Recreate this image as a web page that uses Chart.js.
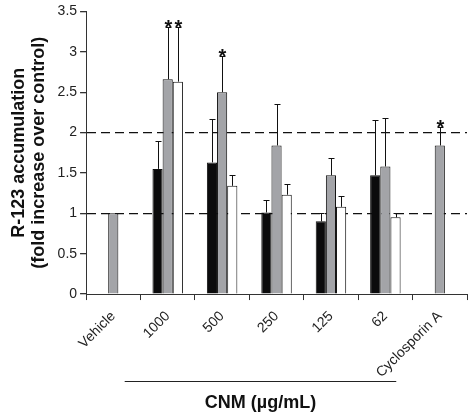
<!DOCTYPE html>
<html lang="en">
<head>
    <meta charset="UTF-8">
    <title>R-123 accumulation</title>
    <style>
        body { margin: 0; background: #fff; }
        #wrap { width: 475px; height: 418px; }
    </style>
</head>
<body>
    <div id="wrap"><canvas id="myChart"></canvas></div>

    <script src="https://cdn.jsdelivr.net/npm/chart.js"></script>
    <script>
        // values
        const categories = ['Vehicle', '1000', '500', '250', '125', '62', 'Cyclosporin A'];
        const blackVals = [null, 1.55, 1.63, 1.01, 0.90, 1.47, null];
        const grayVals  = [1.00, 2.66, 2.50, 1.84, 1.47, 1.58, 1.84];
        const whiteVals = [null, 2.63, 1.34, 1.23, 1.08, 0.95, null];
        // upper error (SD)
        const blackErr = [null, 0.34, 0.54, 0.15, 0.10, 0.68, null];
        const grayErr  = [0, 0.65, 0.45, 0.51, 0.22, 0.60, 0.23];
        const whiteErr = [null, 0.68, 0.13, 0.13, 0.13, 0.05, null];
        // significance marks
        const blackStar = [false, false, false, false, false, false, false];
        const grayStar  = [false, true, true, false, false, false, true];
        const whiteStar = [false, true, false, false, false, false, false];
        const yTicks = [0, 0.5, 1, 1.5, 2, 2.5, 3, 3.5];
        const refLines = [1, 2];

        const errPlugin = {
            id: 'errBars',
            afterDatasetsDraw(chart) {
                const ctx = chart.ctx;
                const y = chart.scales.y;
                ctx.save();
                ctx.strokeStyle = '#111';
                ctx.lineWidth = 1;
                chart.data.datasets.forEach((ds, di) => {
                    const meta = chart.getDatasetMeta(di);
                    meta.data.forEach((el, i) => {
                        const v = ds.data[i];
                        if (v == null) return;
                        const e = ds.err[i] || 0;
                        const x = Math.round(el.x) + 0.5;
                        const top = Math.round(y.getPixelForValue(v + e)) + 0.5;
                        if (e > 0) {
                            ctx.beginPath();
                            ctx.moveTo(x, el.y);
                            ctx.lineTo(x, top);
                            ctx.moveTo(x - 3, top);
                            ctx.lineTo(x + 3, top);
                            ctx.stroke();
                        }
                        if (ds.star[i]) {
                            ctx.fillStyle = '#111';
                            ctx.font = 'bold 20px "Liberation Sans", Arial, sans-serif';
                            ctx.textAlign = 'center';
                            ctx.textBaseline = 'alphabetic';
                            ctx.fillText('*', x, top + 6);
                        }
                    });
                });
                ctx.restore();
            },
            afterDraw(chart) {
                // CNM group bracket under the concentration labels
                const ctx = chart.ctx;
                const xs = chart.scales.x;
                const cw = xs.getPixelForValue(2) - xs.getPixelForValue(1);
                const x1 = xs.getPixelForValue(1) - 0.79 * cw;
                const x2 = xs.getPixelForValue(5) + 0.2 * cw;
                const ly = chart.height - 36.5;
                ctx.save();
                ctx.strokeStyle = '#222';
                ctx.lineWidth = 1;
                ctx.beginPath();
                ctx.moveTo(x1, ly);
                ctx.lineTo(x2, ly);
                ctx.stroke();
                ctx.fillStyle = '#111';
                ctx.font = 'bold 18px "Liberation Sans", Arial, sans-serif';
                ctx.textAlign = 'center';
                ctx.textBaseline = 'alphabetic';
                ctx.fillText('CNM (\u00b5g/mL)', (x1 + x2) / 2, chart.height - 10);
                ctx.restore();
            }
        };

        const ctx = document.getElementById('myChart');

        let config = {
            type: 'bar',
            data: {
                labels: categories,
                datasets: [
                    { data: blackVals, err: blackErr, star: blackStar, backgroundColor: '#0b0b0c' },
                    { data: grayVals, err: grayErr, star: grayStar, backgroundColor: '#a3a4a8' },
                    { data: whiteVals, err: whiteErr, star: whiteStar, backgroundColor: '#ffffff' }
                ]
            },
            options: {
                responsive: true,
                maintainAspectRatio: false,
                animation: false,
                layout: { padding: { left: 9, right: 8, top: 9, bottom: 29 } },
                datasets: {
                    bar: {
                        borderColor: '#111',
                        borderWidth: 1,
                        barPercentage: 1,
                        categoryPercentage: 0.56
                    }
                },
                plugins: {
                    legend: { display: false },
                    tooltip: { enabled: false }
                },
                scales: {
                    x: {
                        grid: {
                            drawOnChartArea: false,
                            drawTicks: true,
                            tickLength: 6,
                            tickColor: '#333'
                        },
                        border: { color: '#333' },
                        ticks: {
                            minRotation: 45,
                            maxRotation: 45,
                            padding: 8,
                            color: '#222',
                            font: { family: '"Liberation Sans", Arial, sans-serif', size: 14 }
                        }
                    },
                    y: {
                        min: 0,
                        max: 3.5,
                        afterBuildTicks(scale) {
                            scale.ticks = yTicks.map(v => ({ value: v }));
                        },
                        grid: {
                            color: c => refLines.includes(c.tick.value) ? '#111' : 'rgba(0,0,0,0)',
                            tickColor: '#333',
                            tickLength: 6,
                            lineWidth: 1.3
                        },
                        border: { color: '#333', dash: [9, 5] },
                        ticks: {
                            color: '#222',
                            padding: 3,
                            font: { family: '"Liberation Sans", Arial, sans-serif', size: 14 },
                            callback: v => String(v)
                        },
                        title: {
                            display: true,
                            text: ['R-123 accumulation', '(fold increase over control)'],
                            color: '#111',
                            font: { family: '"Liberation Sans", Arial, sans-serif', size: 18, weight: 'bold', lineHeight: 1.1 },
                            padding: { top: 0, bottom: 6 }
                        }
                    }
                }
            },
            plugins: [errPlugin]
        };

        let myChart = new Chart(ctx, config);
    </script>
</body>
</html>
